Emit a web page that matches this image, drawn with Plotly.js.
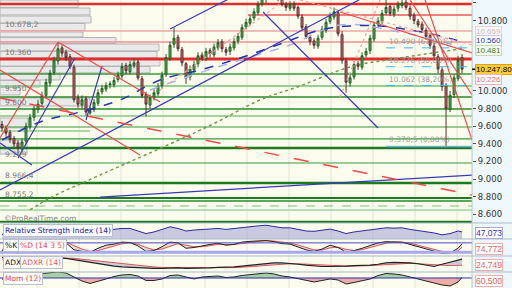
<!DOCTYPE html>
<html><head><meta charset="utf-8">
<script src="https://cdn.plot.ly/plotly-3.0.1.min.js"></script>
<style>html,body{margin:0;padding:0;background:#eef7fb}#chart{width:512px;height:288px}</style>
</head><body><div id="chart"></div>
<script>
// Daily candles, index 0 = oldest session
const openPx = [9620,9580,9530,9460,9410,9340,9430,9590,9700,9790,
 9860,9950,10090,10210,10340,10490,10440,10390,10270,9920,
 9840,9910,9750,9790,9860,9990,10020,10070,10070,10130,
 10170,10290,10220,10290,10330,10140,9960,9840,9930,9970,
 10060,10190,10370,10530,10610,10470,10310,10160,10240,10310,
 10410,10370,10460,10410,10490,10560,10470,10450,10490,10570,
 10610,10730,10770,10830,10890,10990,11040,11110,11160,11070,
 11060,10980,10940,10990,10950,10840,10730,10610,10570,10510,
 10610,10690,10790,10840,10890,10640,10340,10090,10160,10310,
 10270,10410,10460,10590,10760,10790,10890,10960,10870,10940,
 10970,11010,10940,10860,10790,10760,10690,10630,10510,10390,
 10240,10060,9790,9960,10140,10380];
const highPx = [9660,9610,9560,9490,9440,9460,9640,9740,9830,9900,
 9990,10140,10240,10390,10550,10520,10470,10420,10300,9960,
 9950,9940,9820,9910,10020,10070,10100,10110,10160,10220,
 10320,10320,10340,10370,10360,10170,9990,9960,10020,10090,
 10220,10420,10560,10720,10640,10500,10330,10290,10340,10440,
 10440,10490,10490,10540,10590,10590,10500,10540,10600,10660,
 10760,10820,10860,10940,11020,11090,11140,11181,11180,11110,
 11090,11010,11020,11020,10970,10870,10760,10640,10600,10640,
 10740,10820,10890,10950,10920,10680,10370,10190,10340,10340,
 10440,10490,10640,10790,10840,10920,11050,10980,10970,11020,
 11040,11040,10970,10890,10820,10790,10720,10660,10550,10420,
 10270,10090,10000,10190,10400,10420];
const lowPx = [9540,9480,9410,9360,9290,9310,9400,9560,9660,9750,
 9820,9920,10050,10180,10300,10390,10340,10250,9870,9810,
 9800,9720,9730,9760,9830,9960,9990,10030,10040,10100,
 10140,10190,10190,10260,10120,9920,9710,9800,9890,9940,
 10030,10160,10340,10490,10450,10280,10080,10120,10200,10270,
 10340,10340,10380,10380,10460,10440,10400,10410,10460,10530,
 10580,10700,10740,10800,10860,10960,11000,11080,11050,11020,
 10960,10910,10910,10910,10820,10690,10590,10520,10480,10480,
 10580,10660,10760,10810,10620,10310,9980,10050,10130,10240,
 10240,10380,10420,10560,10720,10760,10860,10850,10840,10900,
 10940,10920,10810,10760,10720,10660,10580,10480,10360,10200,
 10000,9370.5,9760,9920,10110,10200];
const closePx = [9580,9520,9450,9400,9350,9420,9600,9700,9800,9850,
 9950,10100,10200,10350,10480,10430,10380,10280,9900,9850,
 9900,9760,9780,9870,9980,10030,10060,10080,10120,10180,
 10280,10230,10300,10320,10150,9950,9850,9920,9980,10050,
 10180,10380,10520,10600,10480,10320,10150,10250,10300,10400,
 10380,10450,10420,10500,10550,10480,10440,10500,10560,10620,
 10720,10780,10820,10900,10980,11050,11100,11150,11080,11050,
 10990,10950,10980,10940,10850,10720,10620,10560,10520,10600,
 10700,10780,10850,10900,10650,10350,10100,10150,10300,10280,
 10400,10450,10600,10750,10800,10880,10950,10880,10930,10980,
 11000,10950,10850,10800,10750,10700,10620,10520,10400,10250,
 10050,9800,9950,10150,10350,10247.8];

// Moving averages (control points: session index / value)
const maBlueIdx = [0,9.5,19.5,29.5,39.5,49.5,59.5,69.5,79.5,87,94.5,102,109.5,115];
const maBlueVal = [9443,9648,9761,9898,10125,10239,10375,10534,10693,10739,10739,10693,10625,10560];
const maLightIdx = [37,46.25,59.5,72,84.5,99.5,115];
const maLightVal = [10011,10159,10352,10523,10750,10670,10500];
const maGreenIdx = [7,12,24.5,42,53.25,64.5,74.5,87,99.5,115];
const maGreenVal = [8648,8784,9045,9398,9636,9898,10057,10273,10375,10481];

// Oscillators, sampled every second session plus the last one
const rsi14 = [40,35,33,45,55,60,66,70,62,45,44,42,50,53,55,58,58,50,42,47,
 55,63,58,50,53,55,56,58,55,58,62,64,66,68,64,60,60,55,50,49,
 53,56,50,42,47,50,55,58,60,59,60,55,52,48,44,38,42,50,47.073];
const stochK = [30,20,15,40,70,85,90,92,80,35,25,18,45,65,72,85,82,60,25,30,
 55,85,80,45,50,62,70,78,65,70,85,90,93,95,88,75,72,55,35,25,
 40,65,50,20,30,45,65,80,88,85,84,70,55,40,25,12,15,45,74.772];
const stochD = [40,30,22,28,45,65,80,88,86,62,40,25,30,45,60,74,80,72,50,35,
 40,60,75,65,55,55,62,70,70,70,76,84,90,93,92,85,78,66,50,35,
 33,48,52,38,30,36,50,65,78,85,85,78,66,52,38,25,18,28,52];
const adx14 = [42,44,45,44,42,40,40,41,40,37,34,31,28,25,23,21,20,19,19,18,
 18,19,19,18,18,18,19,20,20,21,23,25,27,29,30,30,29,27,25,23,
 22,22,22,23,24,24,25,27,30,31,31,30,28,25,22,27,32,36,38];
const adxr14 = [38,39,40,41,41,41,41,41,41,40,38,36,34,32,30,28,26,24,22,21,
 20,20,19.5,19,19,18.5,18.5,19,19,19.5,20.5,22,23,25,26,27,28,28,27,26,
 25,24,23,23,23,23,24,25,26,27,28,29,28,27,25,24,24,24.5,24.749];
const mom12 = [-100,-200,-300,-50,300,450,550,600,500,100,-300,-550,-350,-100,150,300,350,200,-250,-250,
 -100,250,300,100,-100,100,150,200,50,100,250,350,450,500,400,200,100,-50,-250,-400,
 -250,-100,-200,-600,-450,-300,-100,250,450,400,300,100,-100,-300,-450,-700,-800,-400,60.5];

// Horizontal levels
const resistance = [10989,10864,10682,10557,10364];
const resistanceFrom = [-0.5,61.5,-0.5,-0.5,-0.5];
const support = [10193,10057,9932,9795,9716,9591,9545,9455,9352,9182,8955,8784,8750,8693,8648,8511];
const fibLevels = [10490,10276,10062,9370.5];
const fibText = ['10.490 (61,80%)','10.276 (50,00%)','10.062 (38,20%)','9.370,5 (0,00%)'];
const leftLevelPrices = [10678.2,10360,9950,9800,9209,8966.4,8755.2];
const leftLevelText = ['10.678,2','10.360','9.950','9.800','9.209','8.966,4','8.755,2'];

// Volume-by-price bars: price band and length in sessions
const vpHigh = [11034,10943,10852,10767,10670,10608,10534,10449,10358,10278,10199,10119,10040,9920,9693,9443];
const vpLow  = [10949,10864,10773,10688,10614,10540,10455,10375,10284,10205,10125,10045,9955,9830,9580,9284];
const vpLen  = [19.5,22.5,22.75,21.25,20.75,29,39.75,39.25,40,37.5,15,10,5,22.5,7,6.75];

// Trend lines [index0, price0, index1, price1]
const blueTrend = [[-0.5,8875,89.25,11034],[42,10705,62,11170],[65.25,10898,94,9580],
 [4,9239,18.25,10375],[21,9670,25,10284],[-0.5,9409,7.5,9159],[24.5,8795,117.5,9045]];
const redTrend = [[-0.5,9466,14,10557],[14,10557,39.5,9875],[-0.5,10239,34.5,9273],
 [102,11034,117.5,9955],[105.75,11034,117.5,9443],[84.5,10898,117.5,10432]];
const redDashed = [[-0.5,9920,117.5,8818]];
const pinkDotted = [[39.5,10011,70.75,11034],[84.5,9932,94.5,11034],[74.5,11034,117.5,10523]];
const gridIdx = [8.75,19.25,29.75,40.25,50.75,61.25,71.75,82.25,92.75,103.25,113.75];

const candleX = closePx.map((_, i) => i);
const oscX = [];
for (let k = 0; k < 58; k++) oscX.push(2 * k);
oscX.push(115);

const XR = 0.922;
const D = {main:[0.2257,1], rsi:[0.1701,0.2257], sto:[0.1111,0.1701], adx:[0.0556,0.1111], mom:[0,0.0556]};
const FONT = 'DejaVu Sans, Arial, sans-serif';
const NARROW = 'Liberation Sans, Arial, sans-serif';

const traces = [
  {type:'candlestick', x:candleX, open:openPx, high:highPx, low:lowPx, close:closePx,
   xaxis:'x', yaxis:'y', hoverinfo:'skip', whiskerwidth:0,
   increasing:{line:{color:'#245f24', width:1}, fillcolor:'#55ad55'},
   decreasing:{line:{color:'#5a3030', width:1}, fillcolor:'#c86a6a'}},
  {type:'scatter', mode:'lines', x:maLightIdx, y:maLightVal, line:{color:'#aab2ea', width:1.5, dash:'dash', shape:'spline'}, hoverinfo:'skip'},
  {type:'scatter', mode:'lines', x:maBlueIdx, y:maBlueVal, line:{color:'#2233b5', width:1.5, dash:'dash', shape:'spline'}, hoverinfo:'skip'},
  {type:'scatter', mode:'lines', x:maGreenIdx, y:maGreenVal, line:{color:'#6e9a4c', width:1.5, dash:'dot', shape:'spline'}, hoverinfo:'skip'},
  // RSI
  {type:'scatter', mode:'lines', x:oscX, y:rsi14, yaxis:'y2', fill:'tozeroy', fillcolor:'rgba(140,140,205,0.45)', line:{color:'#2a2aa0', width:1}, hoverinfo:'skip'},
  // Stochastic
  {type:'scatter', mode:'lines', x:oscX, y:stochD, yaxis:'y3', line:{color:'#e05555', width:1}, hoverinfo:'skip'},
  {type:'scatter', mode:'lines', x:oscX, y:stochK, yaxis:'y3', fill:'tonexty', fillcolor:'rgba(190,150,160,0.35)', line:{color:'#222', width:1}, hoverinfo:'skip'},
  // ADX / ADXR
  {type:'scatter', mode:'lines', x:oscX, y:adxr14, yaxis:'y4', line:{color:'#e05555', width:1}, hoverinfo:'skip'},
  {type:'scatter', mode:'lines', x:oscX, y:adx14, yaxis:'y4', fill:'tonexty', fillcolor:'rgba(150,150,190,0.45)', line:{color:'#222', width:1.2}, hoverinfo:'skip'},
  // Momentum
  {type:'scatter', mode:'lines', x:oscX, y:mom12.map(v => Math.max(v, 0)), yaxis:'y5', fill:'tozeroy', fillcolor:'rgba(110,180,110,0.6)', line:{width:0}, hoverinfo:'skip'},
  {type:'scatter', mode:'lines', x:oscX, y:mom12.map(v => Math.min(v, 0)), yaxis:'y5', fill:'tozeroy', fillcolor:'rgba(225,120,120,0.6)', line:{width:0}, hoverinfo:'skip'},
  {type:'scatter', mode:'lines', x:oscX, y:mom12, yaxis:'y5', line:{color:'#222', width:1}, hoverinfo:'skip'}
];

const shapes = [];
// vertical date grid
gridIdx.forEach(g => shapes.push({type:'line', xref:'x', yref:'paper', x0:g, x1:g, y0:0, y1:1, layer:'below', line:{color:'#e2e2d6', width:1}}));
// volume-by-price bars
vpHigh.forEach((h, i) => shapes.push({type:'rect', xref:'x', yref:'y', x0:-0.5, x1:-0.5 + vpLen[i], y0:vpLow[i], y1:h, layer:'below', fillcolor:'#e9e9e9', line:{color:'#b4b4b4', width:1}}));
// support levels
const supStyle = [
 ['#3a9a3a',1.5,'solid'],['#94cf94',2,'solid'],['#2a8a2a',1.5,'solid'],['#2a8a2a',1.5,'solid'],
 ['#9fd49f',2,'solid'],['#3a9a3a',1.2,'solid'],['#a8d8a8',2,'solid'],['#3a9a3a',1.2,'solid'],
 ['#1e7a1e',2.5,'solid'],['#3a9a3a',1.2,'solid'],['#1e7a1e',2.5,'solid'],['#1e7a1e',2,'solid'],
 ['#2a8a2a',1.5,'solid'],['#7cc07c',1,'dash'],['#9fd49f',1.5,'solid'],['#1e7a1e',2.5,'solid']];
support.forEach((p, i) => shapes.push({type:'line', xref:'x', yref:'y', x0:-0.5, x1:(i === 6 ? 22 : 117.5), y0:p, y1:p, layer:'below',
  line:{color:supStyle[i][0], width:supStyle[i][1], dash:supStyle[i][2]}}));
// resistance levels
const resStyle = [['#e02c2c',2.5],['#e65a5a',1.5],['#f3a6a6',1.5],['#f09090',1.5],['#e02c2c',3]];
resistance.forEach((p, i) => shapes.push({type:'line', xref:'x', yref:'y', x0:resistanceFrom[i], x1:117.5, y0:p, y1:p, layer:'below',
  line:{color:resStyle[i][0], width:resStyle[i][1]}}));
// fibonacci retracement
fibLevels.forEach((p, i) => shapes.push({type:'line', xref:'x', yref:'y', x0:96, x1:117.5, y0:p, y1:p,
  line:{color:i < 3 ? '#3ab8ea' : '#6fb3e3', width:i < 3 ? 1 : 1.5, dash:i < 3 ? 'dash' : 'solid'}}));
// trend lines
blueTrend.forEach(t => shapes.push({type:'line', xref:'x', yref:'y', x0:t[0], y0:t[1], x1:t[2], y1:t[3], line:{color:'#3a3ab8', width:1.2}}));
redTrend.forEach(t => shapes.push({type:'line', xref:'x', yref:'y', x0:t[0], y0:t[1], x1:t[2], y1:t[3], line:{color:'#ee4a4a', width:1.2}}));
redDashed.forEach(t => shapes.push({type:'line', xref:'x', yref:'y', x0:t[0], y0:t[1], x1:t[2], y1:t[3], line:{color:'#ee4a4a', width:1.5, dash:'longdash'}}));
pinkDotted.forEach(t => shapes.push({type:'line', xref:'x', yref:'y', x0:t[0], y0:t[1], x1:t[2], y1:t[3], line:{color:'#f2a0a0', width:1.2, dash:'dot'}}));
// oscillator guides
shapes.push({type:'line', xref:'x', yref:'y3', x0:-0.5, x1:117.5, y0:80, y1:80, line:{color:'#4848c8', width:1}});
shapes.push({type:'line', xref:'x', yref:'y3', x0:-0.5, x1:117.5, y0:20, y1:20, line:{color:'#a8a8f0', width:3}});
shapes.push({type:'line', xref:'x', yref:'y5', x0:-0.5, x1:117.5, y0:0, y1:0, line:{color:'#3030c0', width:1}});
// panel separators and frame
[D.rsi[1], D.sto[1], D.adx[1], D.mom[1]].forEach(y => shapes.push({type:'line', xref:'paper', yref:'paper', x0:0, x1:1, y0:y, y1:y, line:{color:'#a9bccb', width:1}}));
shapes.push({type:'line', xref:'paper', yref:'paper', x0:XR, x1:XR, y0:0, y1:1, line:{color:'#b8c4cc', width:1}});
// marker for the last traded price on the scale
shapes.push({type:'line', xref:'paper', yref:'y', x0:XR, x1:XR + 0.006, y0:closePx[closePx.length - 1], y1:closePx[closePx.length - 1], line:{color:'#000', width:1.5}});

const ann = [];
leftLevelPrices.forEach((p, i) => ann.push({xref:'paper', yref:'y', x:0.006, y:p, xanchor:'left', yanchor:'bottom', text:leftLevelText[i], showarrow:false, font:{family:FONT, size:7.5, color:'#7a7a7a'}}));
fibLevels.forEach((p, i) => ann.push({xref:'x', yref:'y', x:96.3, y:p, xanchor:'left', yanchor:'bottom', text:fibText[i], showarrow:false, font:{family:FONT, size:7.5, color:'#9a9a9a'}}));
ann.push({xref:'paper', yref:'paper', x:0.004, y:1 - 218/288, xanchor:'left', yanchor:'middle', text:'©ProRealTime.com', showarrow:false, font:{family:FONT, size:7.5, color:'#888'}});

function rightTag(y, yref, text, color, bg, border, size) {
  ann.push({xref:'paper', yref:yref, x:XR + 0.005, y:y, xanchor:'left', yanchor:'middle', text:text, showarrow:false,
    font:{family:NARROW, size:size || 8, color:color}, bgcolor:bg, bordercolor:border, borderwidth:1, borderpad:0});
}
rightTag(10680, 'y', '10.659', '#d0b4b4', '#fbfbfb', '#ecd2d2', 8);
rightTag(10575, 'y', '10.560', '#2233b5', '#ffffff', '#c8c8e8', 8);
rightTag(10465, 'y', '10.481', '#4d7a1e', '#f6f9ee', '#c9d9b0', 8);
rightTag(10247.8, 'y', '10.247,80', '#000000', '#ffc93e', '#e0a400', 8);
rightTag(10135, 'y', '10.226', '#e26b6b', '#ffffff', '#f2b4b4', 8);
rightTag(1 - 233/288, 'paper', '47,073', '#3030b0', '#ffffff', '#a8a8dc', 8.5);
rightTag(1 - 249/288, 'paper', '74,772', '#e06060', '#ffffff', '#f0b0b0', 8.5);
rightTag(1 - 265/288, 'paper', '24,749', '#e06060', '#ffffff', '#f0b0b0', 8.5);
rightTag(1 - 281/288, 'paper', '60,500', '#e06060', '#ffffff', '#f0b0b0', 8.5);

function panelTag(xp, ypx, text, color) {
  ann.push({xref:'paper', yref:'paper', x:xp, y:1 - ypx/288, xanchor:'left', yanchor:'middle', text:text, showarrow:false,
    font:{family:FONT, size:7.5, color:color}, bgcolor:'rgba(255,255,255,0.9)', bordercolor:'#b9bfcc', borderwidth:1, borderpad:1});
}
panelTag(0.006, 230, 'Relative Strength Index (14)', '#23239a');
panelTag(0.006, 245, '%K', '#111');
panelTag(0.036, 245, '%D (14 3 5)', '#e05555');
panelTag(0.006, 262, 'ADX', '#111');
panelTag(0.040, 262, 'ADXR (14)', '#e05555');
panelTag(0.006, 278, 'Mom (12)', '#e05555');

const hiddenAxis = (dom, rng) => ({domain:dom, range:rng, anchor:'x', showticklabels:false, showgrid:false, zeroline:false, ticks:''});

const layout = {
  width:512, height:288, margin:{l:0, r:0, t:0, b:0},
  paper_bgcolor:'#eef7fb', plot_bgcolor:'#fcfcee', showlegend:false, separators:',.',
  font:{family:FONT},
  xaxis:{domain:[0, XR], range:[-0.5, 117.5], showticklabels:false, showgrid:false, zeroline:false, ticks:'', rangeslider:{visible:false}, anchor:'y5'},
  yaxis:{domain:D.main, range:[8500, 11034], side:'right', anchor:'x', tickvals:[11000,10800,10000,9800,9600,9400,9200,9000,8800,8600],
    tickformat:',.0f', ticks:'outside', ticklen:3, tickcolor:'#555', showgrid:false, zeroline:false,
    tickfont:{family:FONT, size:8.5, color:'#333'}},
  yaxis2:hiddenAxis(D.rsi, [25, 75]),
  yaxis3:hiddenAxis(D.sto, [-5, 105]),
  yaxis4:hiddenAxis(D.adx, [10, 45]),
  yaxis5:hiddenAxis(D.mom, [-1000, 600]),
  shapes:shapes, annotations:ann
};

Plotly.newPlot('chart', traces, layout, {staticPlot:true, displayModeBar:false});
</script></body></html>
